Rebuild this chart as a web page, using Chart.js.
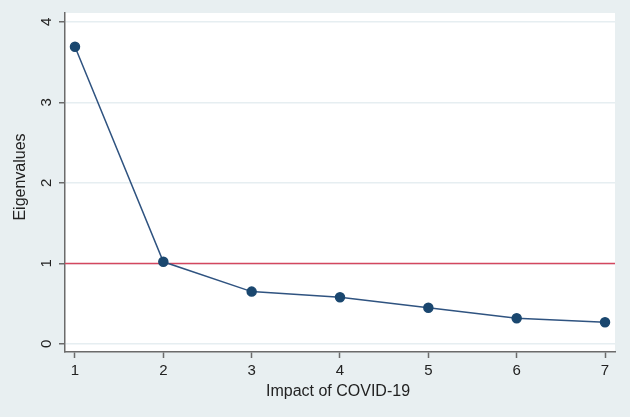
<!DOCTYPE html>
<html>
<head>
<meta charset="utf-8">
<script src="https://cdn.jsdelivr.net/npm/chart.js@4"></script>
<style>
  html, body { margin: 0; padding: 0; background: #e8eff1; }
  #wrap { width: 630px; height: 417px; position: relative; }
</style>
</head>
<body>
<div id="wrap"><canvas id="scree"></canvas></div>
<script>
const components = [1, 2, 3, 4, 5, 6, 7];
const eigenvalues = [3.69, 1.02, 0.65, 0.58, 0.45, 0.32, 0.27];
const yTicks = [0, 1, 2, 3, 4];
const cutoff = 1;

const navy = "#1a476f";
const axisGray = "#6b6b6b";
const font = "Liberation Sans, Arial, sans-serif";

// white plot region, rotated y labels, axis titles and the cutoff line
const decor = {
  id: "decor",
  beforeDraw(chart) {
    const { ctx, chartArea: a } = chart;
    ctx.save();
    ctx.fillStyle = "#ffffff";
    ctx.fillRect(a.left, a.top, a.right - a.left, a.bottom - a.top);
    ctx.restore();
  },
  beforeDatasetsDraw(chart) {
    const { ctx, chartArea: a, scales } = chart;
    const y = scales.y.getPixelForValue(cutoff);
    ctx.save();
    ctx.strokeStyle = "#d4475f";
    ctx.lineWidth = 1.5;
    ctx.beginPath();
    ctx.moveTo(a.left, y);
    ctx.lineTo(a.right, y);
    ctx.stroke();
    ctx.restore();
  },
  afterDraw(chart) {
    const { ctx, chartArea: a, scales } = chart;
    ctx.save();
    ctx.fillStyle = "#222";
    ctx.font = "15px " + font;
    ctx.textAlign = "center";
    ctx.textBaseline = "middle";
    yTicks.forEach(v => {
      ctx.save();
      ctx.translate(47, scales.y.getPixelForValue(v));
      ctx.rotate(-Math.PI / 2);
      ctx.fillText(String(v), 0, 0);
      ctx.restore();
    });
    ctx.font = "16px " + font;
    ctx.save();
    ctx.translate(21, 177);
    ctx.rotate(-Math.PI / 2);
    ctx.fillText("Eigenvalues", 0, 0);
    ctx.restore();
    ctx.fillText("Impact of COVID-19", 338, 392);
    ctx.restore();
  }
};

new Chart(document.getElementById("scree"), {
  type: "line",
  data: {
    datasets: [{
      data: components.map((c, i) => ({ x: c, y: eigenvalues[i] })),
      borderColor: "#2f5380",
      borderWidth: 1.5,
      pointRadius: 4.5,
      pointBackgroundColor: navy,
      pointBorderColor: navy,
      tension: 0
    }]
  },
  options: {
    responsive: true,
    maintainAspectRatio: false,
    animation: false,
    layout: { padding: { top: 13, right: 15, left: 0, bottom: 0 } },
    plugins: { legend: { display: false }, tooltip: { enabled: false } },
    scales: {
      x: {
        type: "linear",
        min: 0.887,
        max: 7.113,
        afterBuildTicks: s => { s.ticks = components.map(v => ({ value: v })); },
        afterFit: s => { s.height = 65; },
        border: { color: axisGray, width: 1.5 },
        grid: { drawOnChartArea: false, drawTicks: true, tickLength: 6, tickColor: axisGray, tickWidth: 1.5 },
        ticks: { color: "#222", font: { family: font, size: 15 }, padding: 4, maxRotation: 0 }
      },
      y: {
        min: -0.1,
        max: 4.11,
        afterBuildTicks: s => { s.ticks = yTicks.map(v => ({ value: v })); },
        afterFit: s => { s.width = 65; },
        border: { color: axisGray, width: 1.5 },
        grid: { color: "#e6eef1", lineWidth: 1.5, drawTicks: true, tickLength: 6, tickColor: axisGray, tickWidth: 1.5 },
        ticks: { color: "rgba(0,0,0,0)", font: { family: font, size: 14 } }
      }
    }
  },
  plugins: [decor]
});
</script>
</body>
</html>
